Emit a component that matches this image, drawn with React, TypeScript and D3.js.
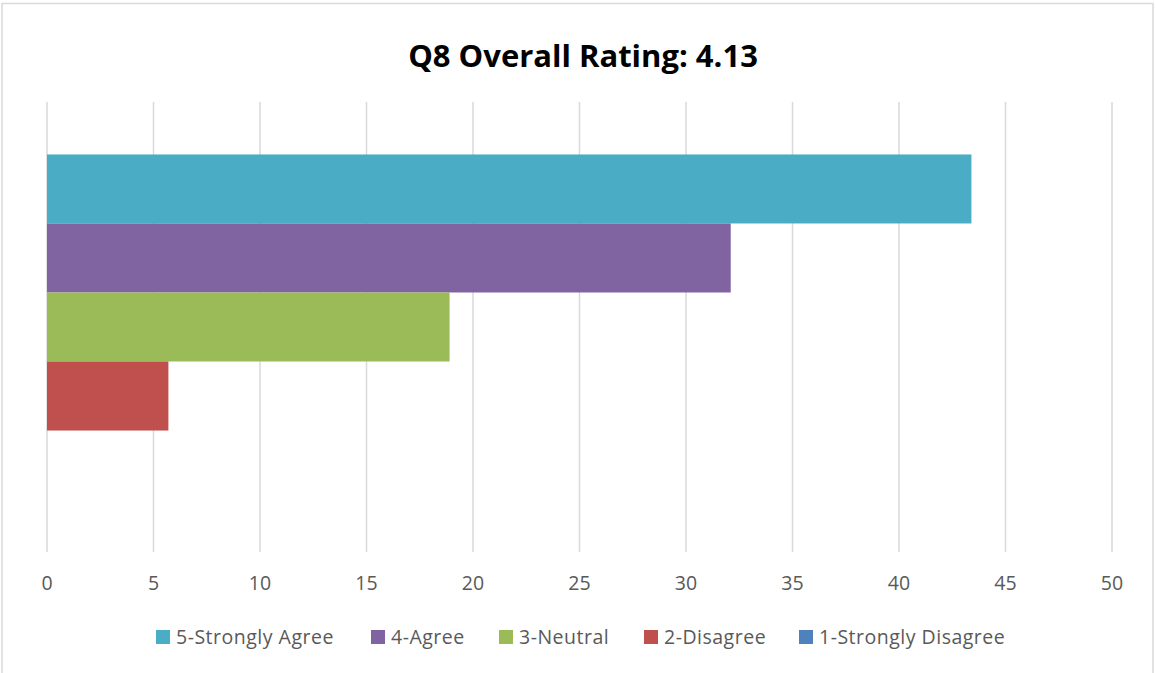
import React from "react";
import * as d3 from "d3";

const title = "Q8 Overall Rating: 4.13";
const seriesNames = ["5-Strongly Agree", "4-Agree", "3-Neutral", "2-Disagree", "1-Strongly Disagree"];
const seriesValues = [43.4, 32.1, 18.9, 5.7, 0];
const seriesColors = ["#4BACC6", "#8064A2", "#9BBB59", "#C0504D", "#4F81BD"];
const xTicks = [0, 5, 10, 15, 20, 25, 30, 35, 40, 45, 50];
const legendX = [156, 371, 499, 644, 799];

export default function App() {
  const W = 1155, H = 673;
  const left = 47, right = 1112, top = 102, bottom = 552;
  const x = d3.scaleLinear().domain([0, 50]).range([left, right]);
  const band = d3.scaleBand().domain(["g"]).range([top, bottom]).paddingInner(0).paddingOuter(0.152);
  const inner = d3.scaleBand<string>().domain(seriesNames).range([band("g")!, band("g")! + band.bandwidth()]).padding(0);
  const font = "'Open Sans', sans-serif";
  return (
    <svg width={W} height={H} style={{ position: "absolute", left: 0, top: 0, background: "#fff" }}>
      <rect x={2} y={3.5} width={1151} height={700} fill="#fff" stroke="#d9d9d9" strokeWidth={1.5} />
      <text x={583} y={67} textAnchor="middle" fontFamily={font} fontWeight="bold" fontSize={31} fill="#000">{title}</text>
      {xTicks.map(t => (
        <line key={t} x1={x(t)} x2={x(t)} y1={top} y2={bottom} stroke="#d9d9d9" strokeWidth={1.5} />
      ))}
      {seriesNames.map((s, i) => (
        <rect key={s} x={x(0)} y={inner(s)} width={x(seriesValues[i]) - x(0)} height={inner.bandwidth()} fill={seriesColors[i]} />
      ))}
      {xTicks.map(t => (
        <text key={t} x={x(t)} y={590} textAnchor="middle" fontFamily={font} fontSize={19.5} fill="#595959">{t}</text>
      ))}
      {seriesNames.map((s, i) => (
        <g key={s} transform={`translate(${legendX[i]},0)`}>
          <rect x={0} y={630} width={14} height={14} fill={seriesColors[i]} />
          <text x={20} y={644} fontFamily={font} fontSize={19.5} letterSpacing={0.5} fill="#595959">{s}</text>
        </g>
      ))}
    </svg>
  );
}
